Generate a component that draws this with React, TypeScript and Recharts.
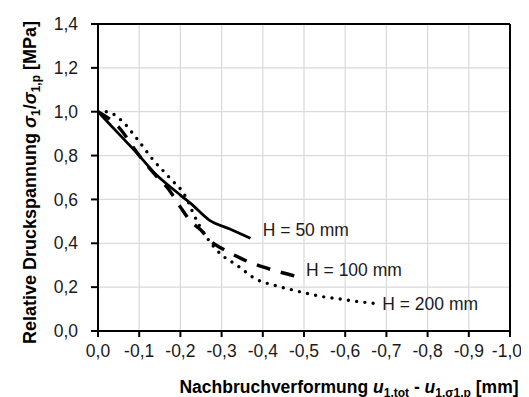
import React from "react";
import { LineChart, Line, XAxis, YAxis, CartesianGrid, ReferenceLine, ReferenceDot } from "recharts";

const xTicks = [0, -0.1, -0.2, -0.3, -0.4, -0.5, -0.6, -0.7, -0.8, -0.9, -1.0];
const yTicks = [0, 0.2, 0.4, 0.6, 0.8, 1.0, 1.2, 1.4];

const h50X = [0, -0.05, -0.1, -0.142, -0.175, -0.2, -0.225, -0.27, -0.32, -0.37];
const h50Y = [1.0, 0.9, 0.8, 0.711, 0.658, 0.62, 0.582, 0.506, 0.465, 0.423];

const h100X = [0, -0.05, -0.1, -0.14, -0.17, -0.2, -0.225, -0.25, -0.27, -0.3, -0.33, -0.365, -0.4, -0.43, -0.48];
const h100Y = [1.0, 0.93, 0.8, 0.71, 0.65, 0.565, 0.5, 0.46, 0.415, 0.377, 0.347, 0.316, 0.292, 0.275, 0.25];

const h200X = [0, -0.02, -0.057, -0.094, -0.134, -0.175, -0.215, -0.231, -0.26, -0.296, -0.337, -0.385, -0.425, -0.466, -0.506, -0.547, -0.587, -0.632, -0.672];
const h200Y = [1.0, 1.0, 0.96, 0.878, 0.78, 0.696, 0.605, 0.537, 0.438, 0.354, 0.3, 0.235, 0.21, 0.19, 0.172, 0.156, 0.146, 0.134, 0.126];

const seriesLabels = ["H = 50 mm", "H = 100 mm", "H = 200 mm"];
const labelX = [-0.4, -0.505, -0.69];
const labelY = [0.46, 0.278, 0.123];

const toData = (xs: number[], ys: number[]) => xs.map((x, i) => ({ x, y: ys[i] }));
const d50 = toData(h50X, h50Y);
const d100 = toData(h100X, h100Y);
const d200 = toData(h200X, h200Y);

const FONT = "'Liberation Sans', Arial, sans-serif";
const fmt = (v: number) => (Math.abs(v) < 1e-9 ? "0,0" : v.toFixed(1).replace(".", ","));

const XTick = (props: any) => {
  const { x, y, payload } = props;
  const isLast = Math.abs(payload.value + 1) < 1e-9;
  return (
    <text
      x={isLast ? x + 12 : x}
      y={y}
      dy="0.71em"
      textAnchor={isLast ? "end" : "middle"}
      fill="#1a1a1a"
      fontSize={17.5}
      fontFamily={FONT}
    >
      {fmt(payload.value)}
    </text>
  );
};

const YLabel = (props: any) => {
  const vb = props.viewBox || {};
  const cy = vb.y + vb.height / 2 + 5;
  const x = 28;
  return (
    <text
      transform={`translate(${x},${cy}) rotate(-90)`}
      textAnchor="middle"
      fontFamily={FONT}
      fontWeight="bold"
      fontSize={18}
      fill="#000"
    >
      Relative Druckspannung{" "}
      <tspan fontStyle="italic">σ</tspan>
      <tspan fontSize={12} dy={4}>1</tspan>
      <tspan dy={-4}>/</tspan>
      <tspan fontStyle="italic">σ</tspan>
      <tspan fontSize={12} dy={4}>1,p</tspan>
      <tspan dy={-4}> [MPa]</tspan>
    </text>
  );
};

const XLabel = () => {
  return (
    <text
      x={341}
      y={385}
      textAnchor="middle"
      fontFamily={FONT}
      fontWeight="bold"
      fontSize={17.5}
      fill="#000"
    >
      Nachbruchverformung{" "}
      <tspan fontStyle="italic">u</tspan>
      <tspan fontSize={12} dy={4}>1,tot</tspan>
      <tspan dy={-4}> - </tspan>
      <tspan fontStyle="italic">u</tspan>
      <tspan fontSize={12} dy={4}>1,σ1,p</tspan>
      <tspan dy={-4}> [mm]</tspan>
    </text>
  );
};

export default function App() {
  return (
    <div>
      <style>{"html,body{overflow:hidden;} .recharts-surface{overflow:visible;}"}</style>
      <LineChart width={521} height={389} margin={{ top: 16, right: 19, bottom: 0, left: 0 }}>
        <CartesianGrid stroke="#d9d9d9" strokeWidth={1.2} />
        <XAxis
          type="number"
          dataKey="x"
          domain={[-1, 0]}
          reversed
          ticks={xTicks}
          tickFormatter={fmt}
          height={66}
          tickSize={6}
          tickMargin={8}
          axisLine={{ stroke: "#000", strokeWidth: 2 }}
          tickLine={{ stroke: "#000", strokeWidth: 2 }}
          tick={<XTick />}
          interval={0}
          allowDataOverflow
          label={<XLabel />}
        />
        <YAxis
          type="number"
          dataKey="y"
          domain={[0, 1.4]}
          ticks={yTicks}
          tickFormatter={fmt}
          width={90}
          tickSize={7}
          tickMargin={13}
          axisLine={{ stroke: "#000", strokeWidth: 2 }}
          tickLine={{ stroke: "#000", strokeWidth: 2 }}
          tick={{ fill: "#1a1a1a", fontSize: 17.5, fontFamily: FONT }}
          interval={0}
          allowDataOverflow
          label={<YLabel />}
        />
        <ReferenceLine y={1.4} stroke="#000" strokeWidth={2} />
        <ReferenceLine x={-1} stroke="#000" strokeWidth={2} />
        <Line data={d200} dataKey="y" type="monotone" stroke="#000" strokeWidth={3.4} strokeDasharray="0 8.3" strokeLinecap="round" dot={false} isAnimationActive={false} />
        <Line data={d100} dataKey="y" type="monotone" stroke="#000" strokeWidth={3.4} strokeDasharray="14 11" dot={false} isAnimationActive={false} />
        <Line data={d50} dataKey="y" type="monotone" stroke="#000" strokeWidth={2.8} dot={false} isAnimationActive={false} />
        {seriesLabels.map((s, i) => (
          <ReferenceDot
            key={s}
            x={labelX[i]}
            y={labelY[i]}
            r={0}
            fill="none"
            stroke="none"
            label={{ value: s, position: "right", offset: 0, fill: "#1a1a1a", fontSize: 17.5, fontFamily: FONT }}
          />
        ))}
      </LineChart>
    </div>
  );
}
